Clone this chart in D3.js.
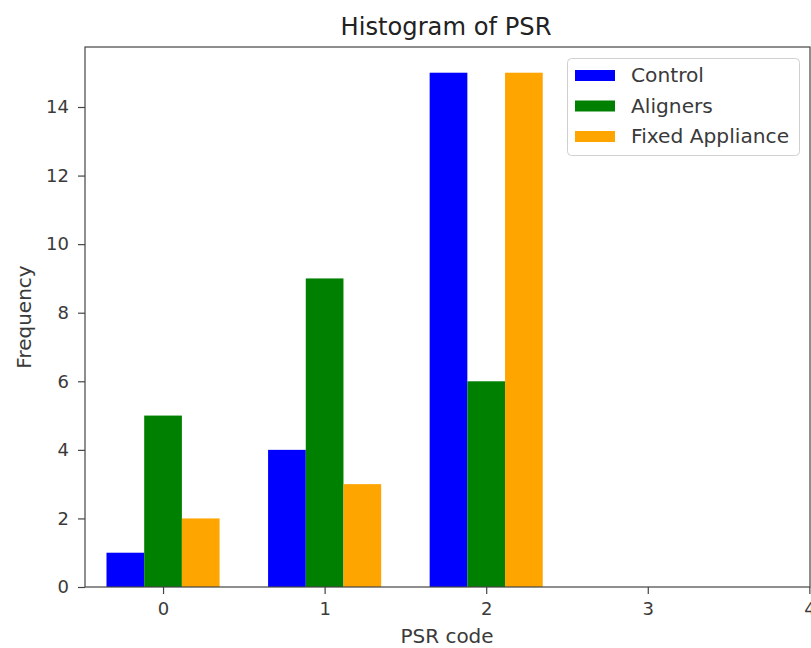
<!DOCTYPE html>
<html><head><meta charset="utf-8">
<script src="https://cdn.jsdelivr.net/npm/d3@7"></script>
<style>body{margin:0;background:#fff;} svg{display:block;font-family:"DejaVu Sans",sans-serif;}</style>
</head><body>
<svg id="c" width="811" height="648"></svg>
<script>
const categories = [0, 1, 2];
const seriesNames = ["Control", "Aligners", "Fixed Appliance"];
const seriesColors = ["#0000ff", "#008000", "#ffa500"];
const control = [1, 4, 15];
const aligners = [5, 9, 6];
const fixedAppliance = [2, 3, 15];
const xTicks = [0, 1, 2, 3, 4];
const yTicks = [0, 2, 4, 6, 8, 10, 12, 14];
const series = [control, aligners, fixedAppliance];

const svg = d3.select("#c");
const L = 85, R = 810, T = 47, B = 587;
const x = d3.scaleLinear().domain([-0.483, 4.004]).range([L, R]);
const y = d3.scaleLinear().domain([0, 15.75]).range([B, T]);
const bw = 0.2333;
const txt = "#3a3a3a";

series.forEach((vals, si) => {
  svg.append("g").selectAll("rect").data(vals).join("rect")
    .attr("x", (d, i) => x(categories[i] + (si - 1) * bw - bw / 2))
    .attr("width", (d, i) => x(categories[i] + (si - 1) * bw + bw / 2) - x(categories[i] + (si - 1) * bw - bw / 2))
    .attr("y", d => y(d))
    .attr("height", d => y(0) - y(d))
    .attr("fill", seriesColors[si]);
});

const ax = svg.append("g").attr("transform", `translate(0,${B})`)
  .call(d3.axisBottom(x).tickValues(xTicks).tickFormat(d3.format("d")).tickSizeOuter(0).tickSize(7).tickPadding(8.5));
const ay = svg.append("g").attr("transform", `translate(${L},0)`)
  .call(d3.axisLeft(y).tickValues(yTicks).tickFormat(d3.format("d")).tickSizeOuter(0).tickSize(7).tickPadding(9));
[ax, ay].forEach(g => {
  g.attr("font-size", 18).attr("font-family", "DejaVu Sans");
  g.select(".domain").remove();
  g.selectAll("line").attr("stroke", "#444").attr("stroke-width", 1.2);
  g.selectAll("text").attr("fill", txt);
});
svg.append("rect").attr("x", L).attr("y", T).attr("width", R - L).attr("height", B - T)
  .attr("fill", "none").attr("stroke", "#444").attr("stroke-width", 1.2);

svg.append("text").attr("x", 446).attr("y", 35).attr("text-anchor", "middle")
  .attr("fill", "#222").attr("font-size", 24.2).text("Histogram of PSR");
svg.append("text").attr("x", 447).attr("y", 643).attr("text-anchor", "middle")
  .attr("fill", txt).attr("font-size", 20).text("PSR code");
svg.append("text").attr("transform", "translate(31,317) rotate(-90)").attr("text-anchor", "middle")
  .attr("fill", txt).attr("font-size", 20).text("Frequency");

const lg = svg.append("g");
lg.append("rect").attr("x", 567.5).attr("y", 58.5).attr("width", 232).attr("height", 97).attr("rx", 4)
  .attr("fill", "#fff").attr("fill-opacity", 0.8).attr("stroke", "#d0d0d0");
seriesNames.forEach((n, i) => {
  const yy = 75 + i * 30.5;
  lg.append("rect").attr("x", 575).attr("y", yy - 5).attr("width", 40).attr("height", 11).attr("fill", seriesColors[i]);
  lg.append("text").attr("x", 631).attr("y", yy + 7).attr("fill", txt).attr("font-size", 20.2).text(n);
});
</script>
</body></html>
